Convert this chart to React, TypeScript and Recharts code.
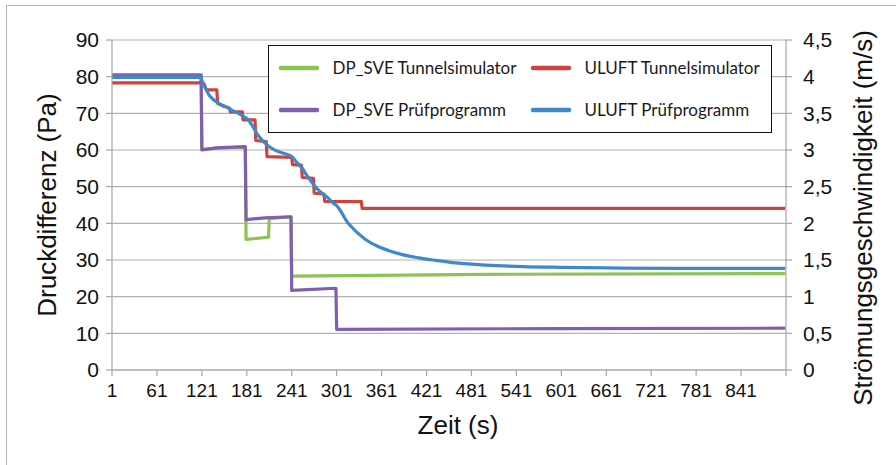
import React from 'react';
import { LineChart, Line, XAxis, YAxis, CartesianGrid, Legend, Label } from 'recharts';

// ---- tick labels / axes ----
const TIME_TICKS = [1, 61, 121, 181, 241, 301, 361, 421, 481, 541, 601, 661, 721, 781, 841, 901];
const PA_TICKS = [0, 10, 20, 30, 40, 50, 60, 70, 80, 90];
const MS_TICKS = [0, 0.5, 1, 1.5, 2, 2.5, 3, 3.5, 4, 4.5];

// ---- DP_SVE Tunnelsimulator (Pa) ----
const dpSveTunnelTime = [1, 120, 121, 150, 179, 180, 210, 211, 240, 241, 500, 900];
const dpSveTunnelPa = [80.3, 80.3, 60.2, 60.6, 60.8, 35.6, 36.2, 41.3, 41.8, 25.6, 26.1, 26.3];

// ---- DP_SVE Prüfprogramm (Pa) ----
const dpSvePruefTime = [1, 120, 121, 140, 179, 180, 205, 240, 241, 300, 301, 600, 900];
const dpSvePruefPa = [80.5, 80.5, 60.0, 60.6, 60.9, 41.0, 41.5, 41.8, 21.7, 22.3, 11.1, 11.3, 11.4];

// ---- ULUFT Tunnelsimulator (m/s) ----
const uluftTunnelTime = [1, 121, 124, 127, 141, 142, 158, 159, 175, 176, 192, 193, 207, 208, 241, 242, 254, 255, 270, 271, 284, 285, 334, 335, 900];
const uluftTunnelMs = [3.915, 3.915, 3.9, 3.82, 3.82, 3.635, 3.57, 3.52, 3.52, 3.41, 3.41, 3.13, 3.115, 2.91, 2.9, 2.8, 2.795, 2.625, 2.615, 2.41, 2.4, 2.3, 2.295, 2.205, 2.205];

// ---- ULUFT Prüfprogramm (m/s) ----
const uluftPruefTime = [1, 120, 121, 125, 130, 135, 143, 150, 157, 165, 170, 176, 183, 189, 194, 201, 208, 215, 223, 232, 241, 248, 255, 262, 270, 277, 284, 290, 296, 302, 308, 315, 322, 330, 341, 355, 370, 390, 410, 430, 460, 500, 550, 600, 680, 780, 900];
const uluftPruefMs = [3.99, 3.99, 3.95, 3.86, 3.76, 3.70, 3.64, 3.60, 3.57, 3.52, 3.50, 3.46, 3.41, 3.32, 3.23, 3.14, 3.07, 3.02, 2.98, 2.95, 2.91, 2.83, 2.75, 2.64, 2.53, 2.45, 2.39, 2.34, 2.28, 2.23, 2.14, 2.02, 1.94, 1.86, 1.77, 1.69, 1.63, 1.57, 1.53, 1.50, 1.46, 1.43, 1.41, 1.40, 1.39, 1.385, 1.385];

const SERIES = [
  { key: 'dpTunnel', name: 'DP_SVE Tunnelsimulator', color: '#8dc255' },
  { key: 'ulTunnel', name: 'ULUFT Tunnelsimulator', color: '#cc4340' },
  { key: 'dpPruef', name: 'DP_SVE Prüfprogramm', color: '#7f5fae' },
  { key: 'ulPruef', name: 'ULUFT Prüfprogramm', color: '#3f88c9' },
];

const zip = (ts: number[], vs: number[]) => ts.map((t, i) => ({ t, v: vs[i] }));

const dataDpTunnel = zip(dpSveTunnelTime, dpSveTunnelPa);
const dataDpPruef = zip(dpSvePruefTime, dpSvePruefPa);
const dataUlTunnel = zip(uluftTunnelTime, uluftTunnelMs);
const dataUlPruef = zip(uluftPruefTime, uluftPruefMs);

const TICK_FONT = "'Liberation Sans', Arial, sans-serif";
const GRID = '#b2b2b2';
const AXIS = '#a6a6a6';

const colorOf = (k: string) => SERIES.find((s) => s.key === k)!.color;

const renderLegend = () => {
  const pos = [
    { line: 12, text: 65, row: 23 },
    { line: 264, text: 317, row: 23 },
    { line: 12, text: 65, row: 65 },
    { line: 264, text: 317, row: 65 },
  ];
  return (
    <div
      style={{
        position: 'relative',
        width: 504,
        height: 88,
        boxSizing: 'border-box',
        border: '1.5px solid #111',
        background: '#fff',
        fontFamily: "Lato, 'Open Sans', sans-serif",
        fontSize: 17,
        color: '#1a1a1a',
      }}
    >
      {SERIES.map((s, i) => (
        <React.Fragment key={s.key}>
          <svg
            width={44}
            height={8}
            style={{ position: 'absolute', left: pos[i].line - 4, top: pos[i].row - 4 - 1.5 }}
          >
            <line x1={4} y1={4} x2={40} y2={4} stroke={s.color} strokeWidth={4.5} strokeLinecap="round" />
          </svg>
          <span
            style={{
              position: 'absolute',
              left: pos[i].text - 1.5,
              top: pos[i].row - 11 - 1.5,
              lineHeight: '22px',
              whiteSpace: 'nowrap',
            }}
          >
            {s.name}
          </span>
        </React.Fragment>
      ))}
    </div>
  );
};

const vTitle = (text: string, dxFromLeft: number, dyCenter: number) => (props: any) => {
  const vb = props.viewBox || { x: 0, y: 0, width: 0, height: 0 };
  const cx = vb.x + dxFromLeft;
  const cy = vb.y + vb.height / 2 + dyCenter;
  return (
    <text
      x={cx}
      y={cy}
      transform={`rotate(-90 ${cx} ${cy})`}
      textAnchor="middle"
      dominantBaseline="central"
      fontFamily={TICK_FONT}
      fontSize={26}
      fill="#111"
    >
      {text}
    </text>
  );
};

const xTitle = (props: any) => {
  const vb = props.viewBox || { x: 0, y: 0, width: 0, height: 0 };
  return (
    <text
      x={vb.x + vb.width / 2 + 9}
      y={vb.y + 64}
      textAnchor="middle"
      fontFamily={TICK_FONT}
      fontSize={26}
      fill="#111"
    >
      Zeit (s)
    </text>
  );
};

export default function App() {
  return (
    <div style={{ position: 'absolute', left: 0, top: 0, width: 896, height: 465, background: '#fff', overflow: 'hidden' }}>
      <div
        style={{
          position: 'absolute',
          left: 6,
          top: 5,
          width: 900,
          height: 470,
          borderTop: '1px solid #b5b5b5',
          borderLeft: '1px solid #b5b5b5',
        }}
      />
      <LineChart width={896} height={465} margin={{ top: 40, right: 30, bottom: 45, left: 32 }}>
        <CartesianGrid yAxisId="left" vertical={false} stroke={GRID} strokeWidth={1.2} />
        <XAxis
          dataKey="t"
          type="number"
          domain={[1, 901]}
          ticks={TIME_TICKS}
          interval={0}
          allowDataOverflow
          height={50}
          tickSize={6}
          tickMargin={8}
          tickFormatter={(v: number) => (v === 901 ? '' : String(v))}
          tick={{ fontFamily: TICK_FONT, fontSize: 19, fill: '#111' }}
          axisLine={{ stroke: AXIS, strokeWidth: 1.2 }}
          tickLine={{ stroke: AXIS, strokeWidth: 1.2 }}
          label={<Label content={xTitle} />}
        />
        <YAxis
          yAxisId="left"
          domain={[0, 90]}
          ticks={PA_TICKS}
          interval={0}
          width={80}
          tickSize={6}
          tickMargin={7}
          tick={{ fontFamily: TICK_FONT, fontSize: 21, fill: '#111' }}
          axisLine={{ stroke: AXIS, strokeWidth: 1.2 }}
          tickLine={{ stroke: AXIS, strokeWidth: 1.2 }}
          label={<Label content={vTitle('Druckdifferenz (Pa)', 15, 0)} />}
        />
        <YAxis
          yAxisId="right"
          orientation="right"
          domain={[0, 4.5]}
          ticks={MS_TICKS}
          interval={0}
          width={80}
          tickSize={6}
          tickMargin={11}
          tickFormatter={(v: number) => String(v).replace('.', ',')}
          tick={{ fontFamily: TICK_FONT, fontSize: 21, fill: '#111' }}
          axisLine={{ stroke: AXIS, strokeWidth: 1.2 }}
          tickLine={{ stroke: AXIS, strokeWidth: 1.2 }}
          label={<Label content={vTitle('Strömungsgeschwindigkeit (m/s)', 77, 13)} />}
        />
        <Legend
          layout="horizontal"
          verticalAlign="middle"
          align="center"
          content={renderLegend}
          wrapperStyle={{ position: 'absolute', left: 268, top: 45, width: 504, height: 88 }}
        />
        <Line
          yAxisId="left"
          data={dataDpTunnel}
          dataKey="v"
          name={SERIES[0].name}
          type="linear"
          stroke={colorOf('dpTunnel')}
          strokeWidth={3.2}
          strokeLinejoin="round"
          dot={false}
          activeDot={false}
          isAnimationActive={false}
        />
        <Line
          yAxisId="right"
          data={dataUlTunnel}
          dataKey="v"
          name={SERIES[1].name}
          type="linear"
          stroke={colorOf('ulTunnel')}
          strokeWidth={3.2}
          strokeLinejoin="round"
          dot={false}
          activeDot={false}
          isAnimationActive={false}
        />
        <Line
          yAxisId="left"
          data={dataDpPruef}
          dataKey="v"
          name={SERIES[2].name}
          type="linear"
          stroke={colorOf('dpPruef')}
          strokeWidth={3.2}
          strokeLinejoin="round"
          dot={false}
          activeDot={false}
          isAnimationActive={false}
        />
        <Line
          yAxisId="right"
          data={dataUlPruef}
          dataKey="v"
          name={SERIES[3].name}
          type="monotone"
          stroke={colorOf('ulPruef')}
          strokeWidth={3.2}
          strokeLinejoin="round"
          dot={false}
          activeDot={false}
          isAnimationActive={false}
        />
      </LineChart>
    </div>
  );
}
